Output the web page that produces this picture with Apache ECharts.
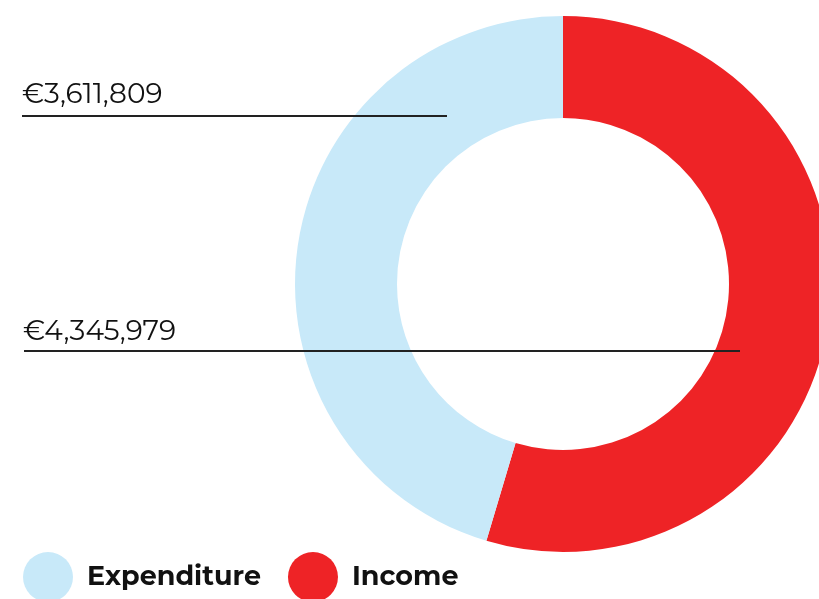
<!DOCTYPE html>
<html>
<head>
<meta charset="utf-8">
<style>
  html, body { margin: 0; padding: 0; background: #ffffff; }
  #chart { width: 819px; height: 599px; }
</style>
<script src="https://cdn.jsdelivr.net/npm/echarts@6/dist/echarts.min.js"></script>
</head>
<body>
<div id="chart"></div>
<script>
// Budget figures (EUR)
const categories = ['Income', 'Expenditure'];
const values = [4345979, 3611809];
const colors = ['#EE2326', '#C8E9F9'];
const legendOrder = ['Expenditure', 'Income'];

function euro(v) {
  return '\u20AC' + v.toLocaleString('en-US');
}

const chart = echarts.init(document.getElementById('chart'));

const pieData = categories.map((name, i) => ({
  name: name,
  value: values[i],
  itemStyle: { color: colors[i] }
}));

const labelFont = '"Montserrat", "Lato", "Open Sans", sans-serif';

chart.setOption({
  animation: false,
  backgroundColor: '#ffffff',
  legend: {
    data: legendOrder,
    left: 23,
    top: 552,
    padding: 0,
    orient: 'horizontal',
    icon: 'circle',
    itemWidth: 50,
    itemHeight: 50,
    itemGap: 27,
    textStyle: {
      fontFamily: labelFont,
      fontWeight: 700,
      fontSize: 27,
      color: '#111111',
      padding: [0, 0, 0, 9]
    }
  },
  series: [{
    type: 'pie',
    center: [563, 284],
    radius: [166, 268],
    startAngle: 90,
    clockwise: true,
    silent: true,
    label: { show: false },
    labelLine: { show: false },
    data: pieData
  }],
  graphic: [
    {
      type: 'text',
      left: 22,
      top: 81,
      z: 100,
      style: {
        text: euro(values[1]),
        font: '400 28px ' + labelFont,
        fill: '#111111'
      }
    },
    {
      type: 'line',
      z: 100,
      shape: { x1: 22, y1: 116, x2: 447, y2: 116 },
      style: { stroke: '#222222', lineWidth: 2 }
    },
    {
      type: 'text',
      left: 23,
      top: 318,
      z: 100,
      style: {
        text: euro(values[0]),
        font: '400 28px ' + labelFont,
        fill: '#111111'
      }
    },
    {
      type: 'line',
      z: 100,
      shape: { x1: 24, y1: 351, x2: 740, y2: 351 },
      style: { stroke: '#222222', lineWidth: 2 }
    }
  ]
});
</script>
</body>
</html>
